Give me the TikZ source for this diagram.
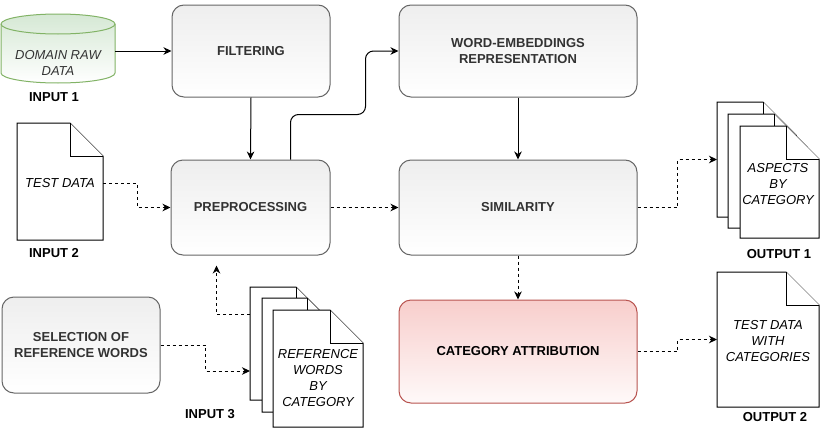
\documentclass[tikz,border=0pt]{standalone}
\usepackage{fontspec}
\setmainfont{Liberation Sans}
\usetikzlibrary{arrows.meta,calc}
\definecolor{boxline}{HTML}{666666}
\definecolor{boxtop}{HTML}{EEEEEE}
\definecolor{txt}{HTML}{333333}
\definecolor{redline}{HTML}{B85450}
\definecolor{redtop}{HTML}{F8CECC}
\definecolor{greenline}{HTML}{82B366}
\definecolor{greentop}{HTML}{D5E8D4}
\newcommand\fsz{\fontsize{13pt}{16pt}\selectfont}
\newcommand\docfold{33pt}
\newcommand\docoutline[1]{%
  \filldraw[docline] (#1.south west) |- ([xshift=-\docfold]#1.north east)
    -- ([yshift=-\docfold]#1.north east) -- (#1.south east) -- cycle;
  \draw[docline] ([xshift=-\docfold]#1.north east) |- ([yshift=-\docfold]#1.north east);}
\tikzset{
  box/.style={draw=boxline, line width=1pt, rounded corners=12pt, top color=boxtop,
    bottom color=white, text=txt, font=\bfseries\fsz, align=center, inner sep=0pt},
  redbox/.style={box, draw=redline, top color=redtop, bottom color=redtop!12!white, text=black},
  docframe/.style={inner sep=0pt, outer sep=0pt},
  docline/.style={draw=black, fill=white, line width=1pt},
  doctext/.style={font=\itshape\fsz, align=center, text=black, inner sep=0pt},
  lbl/.style={font=\bfseries\fsz, text=black, inner sep=0pt},
  solidarrow/.style={-{Stealth[length=8pt,width=7.5pt,inset=2.5pt]}, line width=1pt, black},
  dasharrow/.style={solidarrow, dash pattern=on 3pt off 3pt},
}
\begin{document}
\begin{tikzpicture}[x=1pt,y=-1pt]
\useasboundingbox (0,0) rectangle (830,434);

% cylinder
\node[docframe, minimum width=114pt, minimum height=69pt] (cyl) at (58,48.5) {};
\shade[top color=greentop, bottom color=white, draw=greenline, line width=1pt]
  (1,24) -- (1,73) arc[start angle=180, end angle=360, x radius=57pt, y radius=10pt]
  -- (115,24) arc[start angle=0, end angle=180, x radius=57pt, y radius=10pt] -- cycle;
\draw[greenline, line width=1pt] (1,24) arc[start angle=180, end angle=360, x radius=57pt, y radius=10pt];
\node[doctext, text=txt] (cyltxt) at (58,63) {DOMAIN RAW\\DATA};
\node[lbl] (in1) at (54,97) {INPUT 1};

% process boxes
\node[box, minimum width=158pt, minimum height=92pt] (filt) at (251,51) {FILTERING};
\node[box, minimum width=238pt, minimum height=92pt] (we) at (518,51) {WORD-EMBEDDINGS\\REPRESENTATION};
\node[box, minimum width=159pt, minimum height=95pt] (pre) at (250.5,207.5) {PREPROCESSING};
\node[box, minimum width=238pt, minimum height=95pt] (sim) at (518,207.5) {SIMILARITY};
\node[redbox, minimum width=238pt, minimum height=103pt] (cat) at (518,351.5) {CATEGORY ATTRIBUTION};
\node[box, minimum width=158pt, minimum height=96pt] (sel) at (81,345) {SELECTION OF\\REFERENCE WORDS};

% test data document
\node[docframe, minimum width=86pt, minimum height=117pt] (test) at (60,181.5) {};
\docoutline{test}
\node[doctext] (testtxt) at (60,183) {TEST DATA};
\node[lbl] (in2) at (54,253) {INPUT 2};

% reference documents
\node[docframe, minimum width=79pt, minimum height=113pt] (ref1) at (289.5,343.5) {};
\node[docframe, minimum width=78pt, minimum height=114pt] (ref2) at (301,355) {};
\node[docframe, minimum width=90pt, minimum height=117pt] (ref3) at (318,368.5) {};
\docoutline{ref1}
\docoutline{ref2}
\docoutline{ref3}
\node[doctext] (reftxt) at (318,378) {REFERENCE\\WORDS\\BY\\CATEGORY};
\node[lbl] (in3) at (210,414) {INPUT 3};

% aspects documents
\node[docframe, minimum width=79pt, minimum height=115pt] (asp1) at (756.5,159.5) {};
\node[docframe, minimum width=79pt, minimum height=114pt] (asp2) at (767.5,171) {};
\node[docframe, minimum width=79pt, minimum height=112pt] (asp3) at (779.5,182) {};
\docoutline{asp1}
\docoutline{asp2}
\docoutline{asp3}
\node[doctext] (asptxt) at (778,184) {ASPECTS\\BY\\CATEGORY};
\node[lbl] (out1) at (779,254) {OUTPUT 1};

% test data with categories
\node[docframe, minimum width=102pt, minimum height=135pt] (res) at (768,339.5) {};
\docoutline{res}
\node[doctext] (restxt) at (768,341) {TEST DATA\\WITH\\CATEGORIES};
\node[lbl] (out2) at (775,417) {OUTPUT 2};

% connectors
\draw[solidarrow] (cyl.east |- filt.west) -- (filt.west);
\draw[solidarrow] (filt.south) -- (pre.north);
\draw[solidarrow, rounded corners=8pt] ([xshift=40pt]pre.north) -- ++(0,-45) -| ([xshift=-33pt]we.west) -- (we.west);
\draw[solidarrow] (we.south) -- (sim.north);
\draw[dasharrow] (test.east |- testtxt) -- ++(34,0) |- (pre.west);
\draw[dasharrow] (pre.east) -- (sim.west);
\draw[dasharrow] (sim.south) -- (cat.north);
\draw[dasharrow] (sim.east) -- ++(40,0) |- (asp1.west);
\draw[dasharrow] (cat.east) -- ++(40,0) |- (res.west);
\draw[dasharrow] (sel.east) -- ++(45,0) |- ([yshift=29pt]ref1.south west);
\coordinate (prein) at ([xshift=-34pt,yshift=-10pt]pre.south);
\draw[dasharrow] ([yshift=-27pt]ref1.north west) -| (prein);
\end{tikzpicture}
\end{document}
